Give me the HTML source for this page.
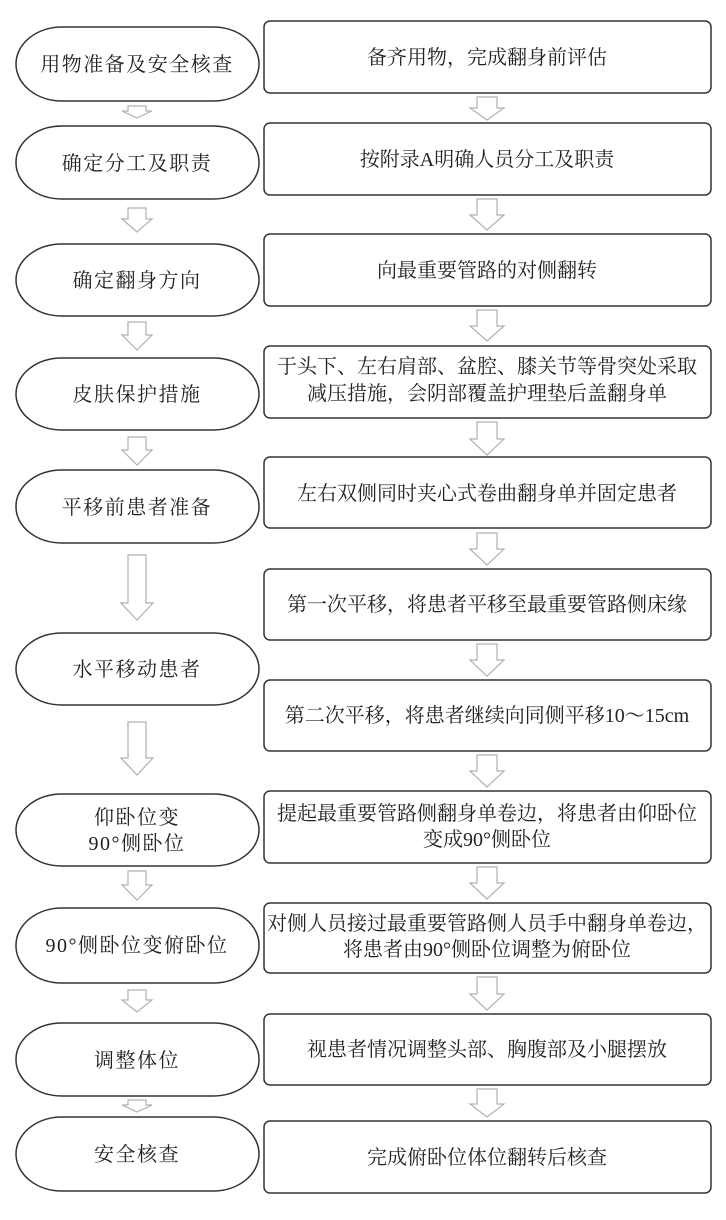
<!DOCTYPE html>
<html><head><meta charset="utf-8"><style>
html,body{margin:0;padding:0;background:#fff;}
svg{display:block;}
text{font-family:"Liberation Serif","Noto Serif CJK SC",serif;font-size:20px;fill:#222;text-anchor:middle;}
.l{letter-spacing:1.5px;}
</style></head><body>
<svg width="726" height="1220" viewBox="0 0 726 1220" xmlns="http://www.w3.org/2000/svg">
<g fill="#fff" stroke="#333" stroke-width="1.5">
<rect x="16" y="27" width="243" height="74" rx="46" ry="37"/>
<rect x="16" y="126" width="243" height="73" rx="46" ry="36"/>
<rect x="16" y="244" width="243" height="72" rx="46" ry="36"/>
<rect x="16" y="358" width="243" height="72" rx="46" ry="36"/>
<rect x="16" y="470" width="243" height="73" rx="46" ry="36"/>
<rect x="16" y="633" width="243" height="72" rx="46" ry="36"/>
<rect x="16" y="794" width="243" height="72" rx="46" ry="36"/>
<rect x="16" y="908" width="243" height="75" rx="46" ry="37"/>
<rect x="16" y="1023" width="243" height="73" rx="46" ry="36"/>
<rect x="16" y="1117" width="243" height="74" rx="46" ry="37"/>

<rect x="264" y="21" width="447" height="72" rx="6"/>
<rect x="264" y="123" width="447" height="72" rx="6"/>
<rect x="264" y="234" width="447" height="72" rx="6"/>
<rect x="264" y="346" width="447" height="72" rx="6"/>
<rect x="264" y="457" width="447" height="71" rx="6"/>
<rect x="264" y="569" width="447" height="71" rx="6"/>
<rect x="264" y="680" width="447" height="71" rx="6"/>
<rect x="264" y="791" width="447" height="72" rx="6"/>
<rect x="264" y="903" width="447" height="70" rx="6"/>
<rect x="264" y="1014" width="447" height="71" rx="6"/>
<rect x="264" y="1121" width="447" height="72" rx="6"/>
</g>
<g fill="#fff" stroke="#b0b0b0" stroke-width="1.2">
<!-- right arrows cx=487 -->
<polygon points="477,97 497,97 497,108 504,108 487,120 470,108 477,108"/>
<polygon points="477,199 497,199 497,215 504,215 487,230 470,215 477,215"/>
<polygon points="477,310 497,310 497,326 504,326 487,341 470,326 477,326"/>
<polygon points="477,422 497,422 497,439 504,439 487,455 470,439 477,439"/>
<polygon points="477,533 497,533 497,549 504,549 487,565 470,549 477,549"/>
<polygon points="477,644 497,644 497,660 504,660 487,676 470,660 477,660"/>
<polygon points="477,755 497,755 497,771 504,771 487,787 470,771 477,771"/>
<polygon points="477,867 497,867 497,883 504,883 487,899 470,883 477,883"/>
<polygon points="477,977 497,977 497,994 504,994 487,1010 470,994 477,994"/>
<polygon points="477,1089 497,1089 497,1104 504,1104 487,1117 470,1104 477,1104"/>
<!-- left arrows cx=137 -->
<polygon points="128,106 146,106 146,111 152,111 137,118 122,111 128,111"/>
<polygon points="128,208 146,208 146,219 152,219 137,232 122,219 128,219"/>
<polygon points="128,322 146,322 146,335 152,335 137,350 122,335 128,335"/>
<polygon points="128,437 146,437 146,450 152,450 137,465 122,450 128,450"/>
<polygon points="128,555 146,555 146,603 153,603 137,620 121,603 128,603"/>
<polygon points="128,722 146,722 146,758 153,758 137,775 121,758 128,758"/>
<polygon points="128,871 146,871 146,885 152,885 137,900 122,885 128,885"/>
<polygon points="128,990 146,990 146,1000 152,1000 137,1012 122,1000 128,1000"/>
<polygon points="128,1100 146,1100 146,1105 152,1105 137,1112 122,1105 128,1105"/>
</g>
<g>
<text class="l" x="137" y="71">用物准备及安全核查</text>
<text class="l" x="137" y="170">确定分工及职责</text>
<text class="l" x="137" y="287">确定翻身方向</text>
<text class="l" x="137" y="401">皮肤保护措施</text>
<text class="l" x="137" y="514">平移前患者准备</text>
<text class="l" x="137" y="676">水平移动患者</text>
<text class="l" x="137" y="824">仰卧位变</text>
<text class="l" x="137" y="850">90°侧卧位</text>
<text class="l" x="137" y="952">90°侧卧位变俯卧位</text>
<text class="l" x="137" y="1067">调整体位</text>
<text class="l" x="137" y="1161">安全核查</text>

<text x="487" y="64">备齐用物，完成翻身前评估</text>
<text x="487" y="166">按附录A明确人员分工及职责</text>
<text x="487" y="277">向最重要管路的对侧翻转</text>
<text x="487" y="373">于头下、左右肩部、盆腔、膝关节等骨突处采取</text>
<text x="487" y="400">减压措施，会阴部覆盖护理垫后盖翻身单</text>
<text x="487" y="500">左右双侧同时夹心式卷曲翻身单并固定患者</text>
<text x="487" y="611">第一次平移，将患者平移至最重要管路侧床缘</text>
<text x="487" y="722">第二次平移，将患者继续向同侧平移10～15cm</text>
<text x="487" y="820">提起最重要管路侧翻身单卷边，将患者由仰卧位</text>
<text x="487" y="846">变成90°侧卧位</text>
<text x="487" y="930">对侧人员接过最重要管路侧人员手中翻身单卷边，</text>
<text x="487" y="956">将患者由90°侧卧位调整为俯卧位</text>
<text x="487" y="1056">视患者情况调整头部、胸腹部及小腿摆放</text>
<text x="487" y="1164">完成俯卧位体位翻转后核查</text>
</g>
</svg>
</body></html>
